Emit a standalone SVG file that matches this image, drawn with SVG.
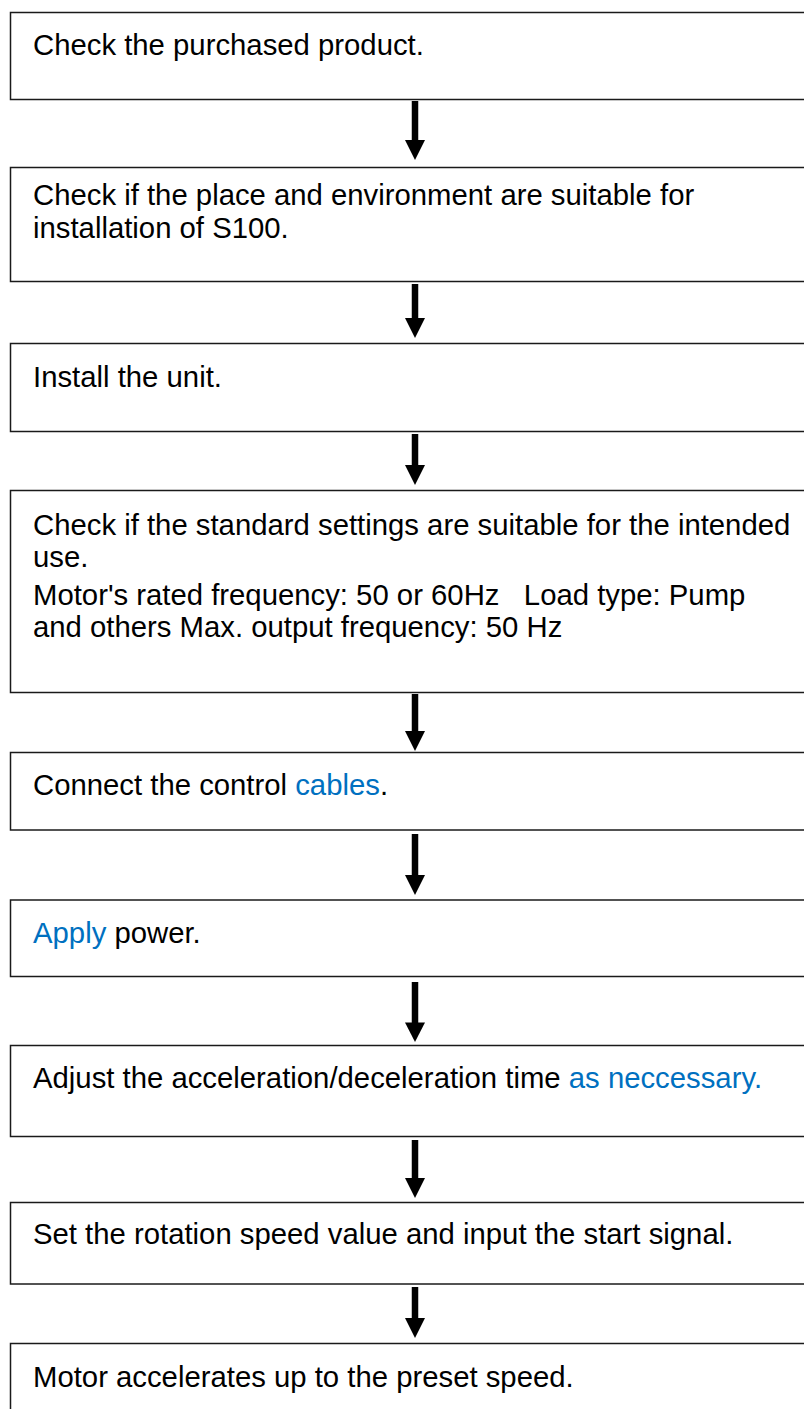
<svg xmlns="http://www.w3.org/2000/svg" width="804" height="1409" viewBox="0 0 804 1409">
<style>
.box{fill:#fff;stroke:#1a1a1a;stroke-width:1.5}
.t{font-family:"Liberation Sans",Arial,sans-serif;font-size:29.3px;fill:#000}
.b{fill:#0070C0}
.shaft{stroke:#000;stroke-width:6.5;fill:none}
.head{fill:#000}
</style>
<rect width="804" height="1409" fill="#fff"/>
<g id="connectors">
<line class="shaft" x1="415" y1="101" x2="415" y2="142"/><polygon class="head" points="405,140 425,140 415,160"/>
<line class="shaft" x1="415" y1="284" x2="415" y2="320"/><polygon class="head" points="405,318 425,318 415,338"/>
<line class="shaft" x1="415" y1="434" x2="415" y2="467"/><polygon class="head" points="405,465 425,465 415,485"/>
<line class="shaft" x1="415" y1="694" x2="415" y2="733"/><polygon class="head" points="405,731 425,731 415,751"/>
<line class="shaft" x1="415" y1="834" x2="415" y2="877"/><polygon class="head" points="405,875 425,875 415,895"/>
<line class="shaft" x1="415" y1="982" x2="415" y2="1025"/><polygon class="head" points="405,1022.5 425,1022.5 415,1042"/>
<line class="shaft" x1="415" y1="1140" x2="415" y2="1180"/><polygon class="head" points="405,1178 425,1178 415,1198"/>
<line class="shaft" x1="415" y1="1287" x2="415" y2="1320"/><polygon class="head" points="405,1318 425,1318 415,1338"/>
</g>
<g id="n1"><rect class="box" x="10.5" y="12.5" width="820" height="87"/><text class="t" x="33" y="55">Check the purchased product.</text></g>
<g id="n2"><rect class="box" x="10.5" y="167.5" width="820" height="114"/><text class="t" x="33" y="205">Check if the place and environment are suitable for</text><text class="t" x="33" y="238">installation of S100.</text></g>
<g id="n3"><rect class="box" x="10.5" y="343.5" width="820" height="88"/><text class="t" x="33" y="387">Install the unit.</text></g>
<g id="n4"><rect class="box" x="10.5" y="490.5" width="820" height="202"/><text class="t" x="33" y="535">Check if the standard settings are suitable for the intended</text><text class="t" x="33" y="567">use.</text><text class="t" x="33" y="605" xml:space="preserve">Motor's rated frequency: 50 or 60Hz   Load type: Pump</text><text class="t" x="33" y="637">and others Max. output frequency: 50 Hz</text></g>
<g id="n5"><rect class="box" x="10.5" y="752.5" width="820" height="77.5"/><text class="t" x="33" y="795">Connect the control <tspan class="b">cables</tspan>.</text></g>
<g id="n6"><rect class="box" x="10.5" y="900" width="820" height="76.5"/><text class="t" x="33" y="943"><tspan class="b">Apply</tspan> power.</text></g>
<g id="n7"><rect class="box" x="10.5" y="1045.5" width="820" height="91"/><text class="t" x="33" y="1088">Adjust the acceleration/deceleration time <tspan class="b">as neccessary.</tspan></text></g>
<g id="n8"><rect class="box" x="10.5" y="1202.5" width="820" height="81.5"/><text class="t" x="33" y="1244">Set the rotation speed value and input the start signal.</text></g>
<g id="n9"><rect class="box" x="10.5" y="1343.5" width="820" height="100"/><text class="t" x="33" y="1387">Motor accelerates up to the preset speed.</text></g>
</svg>
